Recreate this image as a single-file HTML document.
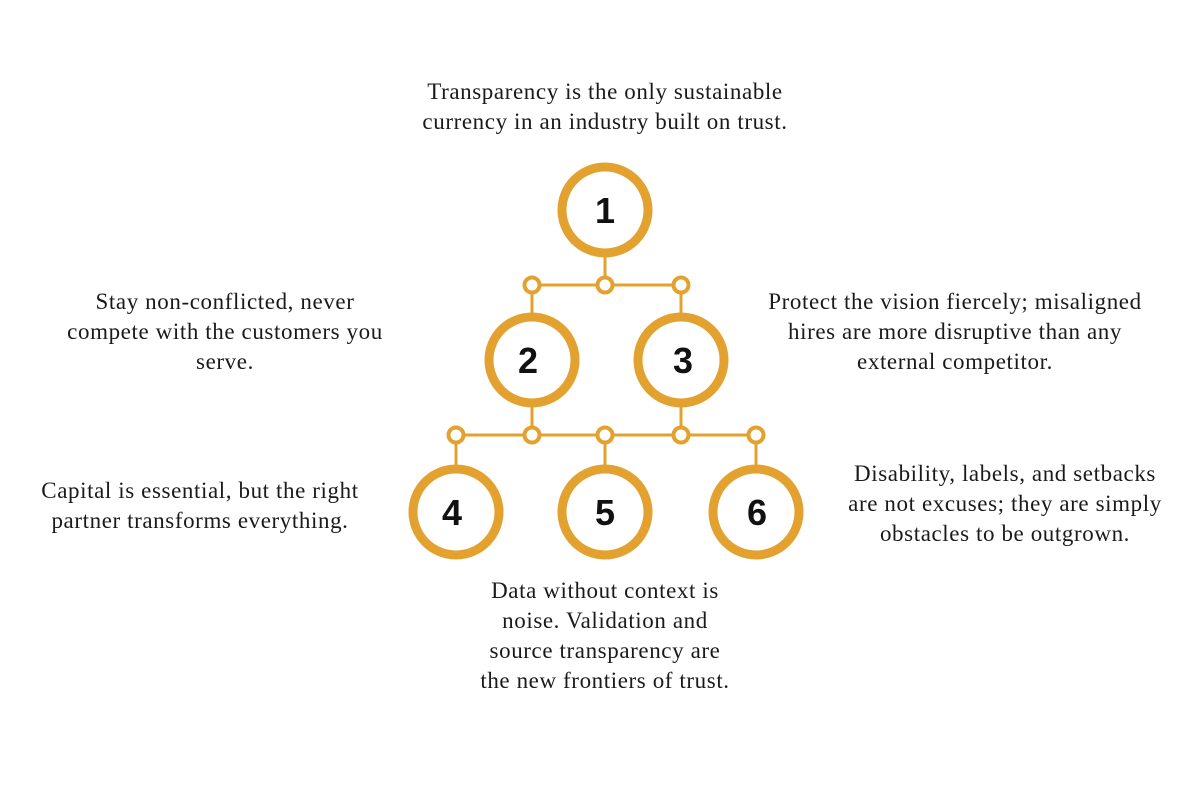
<!DOCTYPE html>
<html><head><meta charset="utf-8"><style>
body{margin:0;width:1200px;height:800px;background:#fff;position:relative;overflow:hidden;font-family:"Liberation Serif",serif;color:#1a1a1a}
.t{position:absolute;font-size:23px;letter-spacing:0.6px;line-height:30px;text-align:center;white-space:nowrap}
svg{position:absolute;left:0;top:0}
</style></head><body>
<svg width="1200" height="800">
<g stroke="#E3A22F" fill="none" stroke-width="3">
<line x1="605" y1="255" x2="605" y2="285"/>
<line x1="532" y1="285" x2="681" y2="285"/>
<line x1="532" y1="285" x2="532" y2="315"/>
<line x1="681" y1="285" x2="681" y2="315"/>
<line x1="532" y1="405" x2="532" y2="435"/>
<line x1="681" y1="405" x2="681" y2="435"/>
<line x1="456" y1="435" x2="756" y2="435"/>
<line x1="456" y1="435" x2="456" y2="467"/>
<line x1="605" y1="435" x2="605" y2="467"/>
<line x1="756" y1="435" x2="756" y2="467"/>
</g>
<g stroke="#E3A22F" fill="#fff" stroke-width="9">
<circle cx="605" cy="210" r="43"/>
<circle cx="532" cy="360" r="43"/>
<circle cx="681" cy="360" r="43"/>
<circle cx="456" cy="512" r="43"/>
<circle cx="605" cy="512" r="43"/>
<circle cx="756" cy="512" r="43"/>
</g>
<g stroke="#E3A22F" fill="#fff" stroke-width="4">
<circle cx="532" cy="285" r="7.5"/><circle cx="605" cy="285" r="7.5"/><circle cx="681" cy="285" r="7.5"/>
<circle cx="456" cy="435" r="7.5"/><circle cx="532" cy="435" r="7.5"/><circle cx="605" cy="435" r="7.5"/><circle cx="681" cy="435" r="7.5"/><circle cx="756" cy="435" r="7.5"/>
</g>
<g font-family="Liberation Sans, sans-serif" font-weight="bold" font-size="36" fill="#111" text-anchor="middle">
<text x="605" y="223">1</text><text x="528" y="373">2</text><text x="683" y="373">3</text>
<text x="452" y="525">4</text><text x="605" y="525">5</text><text x="757" y="525">6</text>
</g>
</svg>
<div class="t" style="left:355px;top:77px;width:500px">Transparency is the only sustainable<br>currency in an industry built on trust.</div>
<div class="t" style="left:20px;top:287px;width:410px">Stay non-conflicted, never<br>compete with the customers you<br>serve.</div>
<div class="t" style="left:730px;top:287px;width:450px">Protect the vision fiercely; misaligned<br>hires are more disruptive than any<br>external competitor.</div>
<div class="t" style="left:0px;top:476px;width:400px">Capital is essential, but the right<br>partner transforms everything.</div>
<div class="t" style="left:805px;top:459px;width:400px">Disability, labels, and setbacks<br>are not excuses; they are simply<br>obstacles to be outgrown.</div>
<div class="t" style="left:430px;top:576px;width:350px">Data without context is<br>noise. Validation and<br>source transparency are<br>the new frontiers of trust.</div>
</body></html>
